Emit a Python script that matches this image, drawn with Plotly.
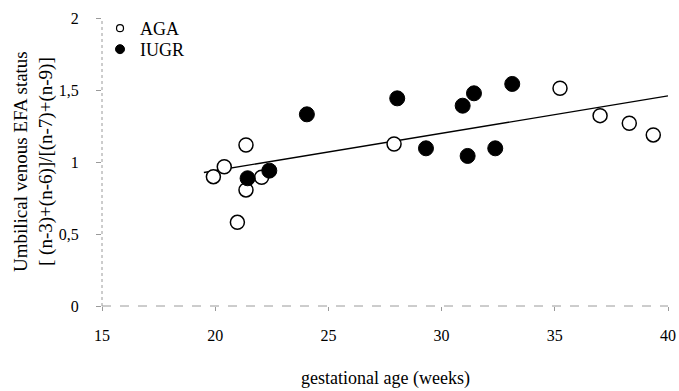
import plotly.graph_objects as go

# Data
aga_x = [19.92, 20.40, 21.36, 21.36, 20.98, 22.05, 27.90, 35.23, 37.00, 38.29, 39.35]
aga_y = [0.898, 0.967, 1.118, 0.806, 0.581, 0.894, 1.125, 1.512, 1.322, 1.269, 1.188]

iugr_x = [21.43, 22.39, 24.05, 28.04, 29.31, 30.93, 31.43, 31.15, 32.37, 33.12]
iugr_y = [0.887, 0.940, 1.331, 1.442, 1.095, 1.391, 1.477, 1.042, 1.095, 1.542]

reg_x = [19.5, 40.0]
reg_y = [0.927, 1.459]

x_ticks = [15, 20, 25, 30, 35, 40]
y_ticks = [0, 0.5, 1, 1.5, 2]
y_tick_labels = ["0", "0,5", "1", "1,5", "2"]

FONT = "Liberation Serif, Times New Roman, serif"

fig = go.Figure()
fig.add_trace(go.Scatter(
    x=reg_x, y=reg_y, mode="lines",
    line=dict(color="black", width=1.3), showlegend=False, hoverinfo="skip"))
fig.add_trace(go.Scatter(
    x=aga_x, y=aga_y, mode="markers", name="AGA", showlegend=False,
    marker=dict(symbol="circle", size=14, color="white",
                line=dict(color="black", width=1.5))))
fig.add_trace(go.Scatter(
    x=iugr_x, y=iugr_y, mode="markers", name="IUGR", showlegend=False,
    marker=dict(symbol="circle", size=15, color="black",
                line=dict(color="black", width=1))))

# legend-only entries with the small legend symbols of the reference
fig.add_trace(go.Scatter(
    x=[None], y=[None], mode="markers", name="AGA", legend="legend",
    marker=dict(symbol="circle", size=7, color="white",
                line=dict(color="black", width=1.2))))
fig.add_trace(go.Scatter(
    x=[None], y=[None], mode="markers", name="IUGR", legend="legend2",
    marker=dict(symbol="circle", size=9, color="black",
                line=dict(color="black", width=1))))

# dotted axis lines
fig.add_shape(type="line", xref="paper", yref="paper", x0=0, x1=0, y0=0, y1=1,
              line=dict(color="#9a9a9a", width=1, dash="dot"))
fig.add_shape(type="line", xref="paper", yref="paper", x0=0, x1=1, y0=0, y1=0,
              line=dict(color="#9a9a9a", width=1, dash="dash"))

# axis titles as annotations
fig.add_annotation(xref="paper", yref="paper", x=-0.1219, y=0.5,
                   text="Umbilical venous EFA status<br>[ (n-3)+(n-6)]/[(n-7)+(n-9)]",
                   textangle=-90, showarrow=False, xanchor="center", yanchor="middle",
                   font=dict(family=FONT, size=19))
fig.add_annotation(xref="paper", yref="paper", x=0.5, y=-0.25,
                   text="gestational age (weeks)", showarrow=False,
                   xanchor="center", yanchor="middle",
                   font=dict(family=FONT, size=18))

legend_common = dict(xanchor="left", yanchor="top", bgcolor="rgba(0,0,0,0)",
                     font=dict(family=FONT, size=18), itemsizing="trace")

fig.update_layout(
    width=679, height=391,
    margin=dict(l=102, r=11, t=18, b=85, autoexpand=False),
    paper_bgcolor="white", plot_bgcolor="white",
    font=dict(family=FONT, color="black", size=16),
    legend=dict(x=-0.0035, y=1.028, **legend_common),
    legend2=dict(x=-0.0035, y=0.955, **legend_common),
    xaxis=dict(range=[15, 40], tickvals=x_ticks, ticktext=[str(v) for v in x_ticks],
               showgrid=False, zeroline=False, showline=False, automargin=False,
               ticks="outside", ticklen=4, tickcolor="#9a9a9a",
               ticklabelstandoff=11,
               tickfont=dict(family=FONT, size=16)),
    yaxis=dict(range=[0, 2], tickvals=y_ticks, ticktext=y_tick_labels,
               showgrid=False, zeroline=False, showline=False, automargin=False,
               ticks="outside", ticklen=5, tickcolor="#9a9a9a",
               ticklabelstandoff=14,
               tickfont=dict(family=FONT, size=16)),
)

# remove the default page margin so the figure fills the 679x391 window exactly
fig.write_html("out.html",
               config={"displayModeBar": False},
               post_script="document.body.style.margin='0';document.body.style.overflow='hidden';")
